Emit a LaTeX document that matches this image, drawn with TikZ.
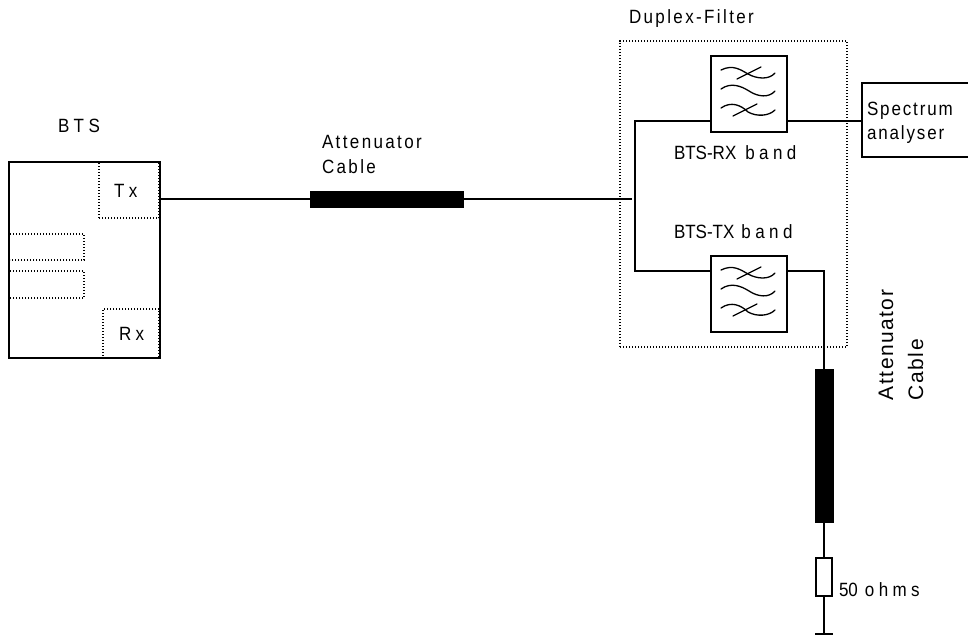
\documentclass[tikz,border=0pt]{standalone}
\usepackage{graphicx}
\usepackage{fontspec}
\setmainfont{Liberation Sans}
\newfontfamily\lsa[LetterSpace=7]{Liberation Sans}
\newfontfamily\lsb[LetterSpace=14]{Liberation Sans}
\newfontfamily\lsd[LetterSpace=11]{Liberation Sans}
\newfontfamily\lsc[LetterSpace=26]{Liberation Sans}
\newcommand\tallbox[1]{\scalebox{1}[1.13]{#1}}
\tikzset{
  x=1pt,y=-1pt,
  wire/.style={line width=1.4pt,black},
  boxs/.style={draw=black,line width=1.5pt,fill=white,inner sep=0pt,outer sep=0pt,rectangle,anchor=north west},
  dotbox/.style={draw=black,line width=1.3pt,dash pattern=on 1.4pt off 1.6pt,inner sep=0pt,outer sep=0pt,rectangle,anchor=north west},
  cablebar/.style={fill=black,draw=black,line width=0.5pt,inner sep=0pt,outer sep=0pt,rectangle,anchor=north west},
  lbl/.style={font=\fontsize{17}{20}\selectfont,inner sep=0pt,outer sep=0pt,anchor=base west,black},
  rlbl/.style={font=\fontsize{21}{24}\selectfont,rotate=90,inner sep=0pt,outer sep=0pt,anchor=base west,black},
  wave/.style={line width=1.3pt,black,line cap=round},
  filtersym/.pic={
    \draw[wave] (10,14) .. controls (22,8) and (30,14) .. (37,18) .. controls (46,23) and (58,24) .. (64,17);
    \draw[wave] (26,23) -- (50,11);
    \draw[wave] (10,33) .. controls (20,26) and (30,30) .. (38,35) .. controls (47,41) and (58,42) .. (64,35);
    \draw[wave] (10,52) .. controls (20,45) and (30,49) .. (37,56) .. controls (46,61) and (58,60) .. (64,54);
    \draw[wave] (22,60) -- (46,48);
  }
}
\begin{document}
\begin{tikzpicture}
\useasboundingbox (0,0) rectangle (968,637);
% BTS
\node[boxs,minimum width=151pt,minimum height=196pt] (bts) at (9,162) {};
\node[dotbox,minimum width=60pt,minimum height=56pt] (tx) at (99,162) {};
\node[dotbox,minimum width=56pt,minimum height=49pt] (rx) at (103,309) {};
\draw[dotbox] (10,234) -- (84,234) -- (84,260) -- (10,260);
\draw[dotbox] (10,271) -- (84,271) -- (84,298) -- (10,298);
\node[lbl] (btsl) at (58,132) {\tallbox{\lsc BTS}};
\node[lbl] (txl) at (114,197) {\tallbox{\lsc Tx}};
\node[lbl] (rxl) at (119,340) {\tallbox{\lsc Rx}};
% cable 1
\node[cablebar,minimum width=153pt,minimum height=16pt] (cab1) at (310,191) {};
\node[lbl] (at1) at (322,148) {\tallbox{\lsb Attenuator}};
\node[lbl] (ca1) at (322,173) {\tallbox{\lsb Cable}};
% duplex
\node[dotbox,minimum width=227pt,minimum height=306pt] (dup) at (620,41) {};
\node[lbl] (dupl) at (629,23) {\tallbox{\lsb Duplex-Filter}};
\node[boxs,minimum width=76pt,minimum height=76pt] (frx) at (711,56) {};
\node[boxs,minimum width=76pt,minimum height=76pt] (ftx) at (711,256) {};
\pic at (711,56) {filtersym};
\pic at (711,256) {filtersym};
\node[lbl] (rxb) at (674,159) {\tallbox{BTS-RX\kern9pt{\lsc band}}};
\node[lbl] (txb) at (674,238) {\tallbox{BTS-TX\kern7pt{\lsc band}}};
% spectrum
\coordinate (spT) at (968,83);
\coordinate (spB) at (968,157);
\coordinate (spTL) at (862,83);
\coordinate (spBL) at (862,157);
\coordinate (spIn) at (862,121);
\coordinate (rxIn) at (711,121);
\coordinate (rxOut) at (787,121);
\coordinate (txIn) at (711,271);
\coordinate (txOut) at (787,271);
\draw[wire,line width=1.5pt] (spT) -- (spTL) -- (spBL) -- (spB);
\node[lbl] (sp1) at (867,115) {\tallbox{\lsd Spectrum}};
\node[lbl] (sp2) at (867,139) {\tallbox{\lsd analyser}};
% cable 2
\node[cablebar,minimum width=18pt,minimum height=153pt] (cab2) at (815,369) {};
\node[boxs,minimum width=16pt,minimum height=38pt] (res) at (816,558) {};
\coordinate (gnd) at (824,634);
\coordinate (gl) at (815,634);
\coordinate (gr) at (833,634);
\node[rlbl] (at2) at (893,400) {\lsa Attenuator};
\node[rlbl] (ca2) at (923,400) {\lsa Cable};
\node[lbl] (ohm) at (839,596) {\tallbox{50\kern7pt{\lsc ohms}}};
% connectors
\coordinate (junc) at (632,199);
\coordinate (busT) at (635,121);
\coordinate (busB) at (635,271);
\draw[wire] (cab1.west -| tx.east) -- (cab1.west);
\draw[wire] (cab1.east) -- (junc);
\draw[wire] (rxIn) -- (busT) -- (busB) -- (txIn);
\draw[wire] (rxOut) -- (spIn);
\draw[wire] (txOut) -| (cab2.north);
\draw[wire] (cab2.south) -- (res.north);
\draw[wire] (res.south) -- (gnd);
\draw[wire] (gl) -- (gr);
\end{tikzpicture}
\end{document}
